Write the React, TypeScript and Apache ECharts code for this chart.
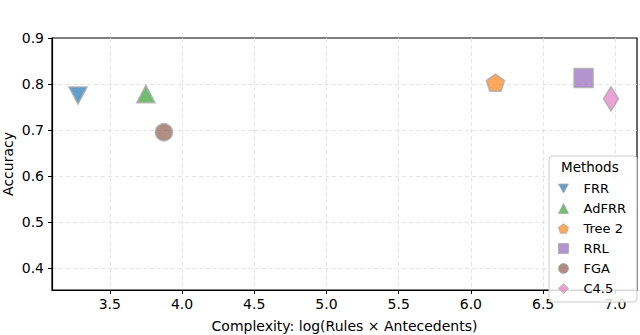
import React, { useEffect, useRef } from "react";
import * as echarts from "echarts";

const methods = ["FRR", "AdFRR", "Tree 2", "RRL", "FGA", "C4.5"];
const complexity = [3.28, 3.75, 6.17, 6.78, 3.875, 6.97];
const accuracy = [0.775, 0.778, 0.803, 0.813, 0.695, 0.768];
const colors = [
  "rgba(31,119,180,0.88)",
  "rgba(44,160,44,0.85)",
  "rgba(255,127,14,0.85)",
  "rgba(148,103,189,0.88)",
  "rgba(140,86,75,0.85)",
  "rgba(227,119,194,0.85)",
];
const PENTAGON = "path://M0,-1L0.951,-0.309L0.588,0.809L-0.588,0.809L-0.951,-0.309Z";
const DOWN_TRI = "path://M-1,-0.9L1,-0.9L0,0.9Z";
const symbols = [DOWN_TRI, "triangle", PENTAGON, "rect", "circle", "diamond"];
const sizes: any[] = [[18, 17], [18, 17], [18, 17], [19, 19], [17, 17], [15, 24]];

const FONT = "DejaVu Sans";

export default function App() {
  const ref = useRef<HTMLDivElement>(null);
  useEffect(() => {
    if (!ref.current) return;
    const chart = echarts.init(ref.current, undefined, { renderer: "svg" });
    const series = methods.map((m, i) => ({
      name: m,
      type: "scatter",
      data: [[complexity[i], accuracy[i]]],
      symbol: symbols[i],
      symbolSize: sizes[i],
      symbolKeepAspect: false,
      itemStyle: { color: colors[i], borderColor: "#aaaaaa", borderWidth: 1.6 },
      z: 3,
    }));
    chart.setOption({
      animation: false,
      textStyle: { fontFamily: FONT },
      grid: {
        left: 52,
        top: 38,
        right: 3,
        bottom: 45,
        outerBoundsMode: "none",
        containLabel: false,
        show: true,
        borderColor: "#000",
        borderWidth: 1.2,
        backgroundColor: "transparent",
      },
      xAxis: {
        type: "value",
        min: 3.1,
        max: 7.15,
        splitNumber: 8,
        minInterval: 0.5,
        maxInterval: 0.5,
        name: "Complexity: log(Rules × Antecedents)",
        nameLocation: "middle",
        nameGap: 29,
        nameTextStyle: { fontFamily: FONT, fontSize: 14, color: "#000" },
        axisLine: { show: true, lineStyle: { color: "#000", width: 1.2 } },
        axisTick: { show: true, inside: false, length: 4, lineStyle: { color: "#000" } },
        axisLabel: {
          showMinLabel: false,
          showMaxLabel: false,
          color: "#000",
          fontFamily: FONT,
          fontSize: 14,
          margin: 7,
          formatter: (v: number) => v.toFixed(1),
        },
        splitLine: {
          show: true,
          showMinLine: false,
          showMaxLine: false,
          lineStyle: { color: "#dddddd", type: [4, 3], width: 0.8 },
        },
      },
      yAxis: {
        type: "value",
        min: 0.352,
        max: 0.9,
        splitNumber: 5,
        minInterval: 0.1,
        maxInterval: 0.1,
        name: "Accuracy",
        nameLocation: "middle",
        nameGap: 37,
        nameMoveOverlap: false,
        nameTextStyle: { fontFamily: FONT, fontSize: 14, color: "#000" },
        axisLine: { show: true, lineStyle: { color: "#000", width: 1.2 } },
        axisTick: { show: true, inside: false, length: 4, lineStyle: { color: "#000" } },
        axisLabel: {
          showMinLabel: false,
          showMaxLabel: true,
          color: "#000",
          fontFamily: FONT,
          fontSize: 14,
          margin: 8,
          formatter: (v: number) => v.toFixed(1),
        },
        splitLine: {
          show: true,
          showMinLine: false,
          showMaxLine: false,
          lineStyle: { color: "#dddddd", type: [4, 3], width: 0.8 },
        },
      },
      legend: {
        orient: "vertical",
        left: 549,
        top: 156,
        width: 70,
        padding: [26, 11, 7, 9],
        itemWidth: 10,
        itemHeight: 10,
        itemGap: 7,
        backgroundColor: "rgba(255,255,255,0.85)",
        borderColor: "#cccccc",
        borderWidth: 1,
        borderRadius: 3,
        textStyle: { fontFamily: FONT, fontSize: 13, color: "#000", padding: [0, 0, 0, 10] },
        data: methods.map((m) => ({
          name: m,
          itemStyle: { borderWidth: 1 },
        })),
      },
      graphic: [
        {
          type: "text",
          left: 561,
          top: 160,
          z: 100,
          style: { text: "Methods", fontFamily: FONT, fontSize: 13.5, fill: "#000" },
        },
      ],
      series,
    });
    return () => chart.dispose();
  }, []);
  return (
    <div
      ref={ref}
      style={{ position: "absolute", left: 0, top: 0, width: 640, height: 335, background: "#fff" }}
    />
  );
}
